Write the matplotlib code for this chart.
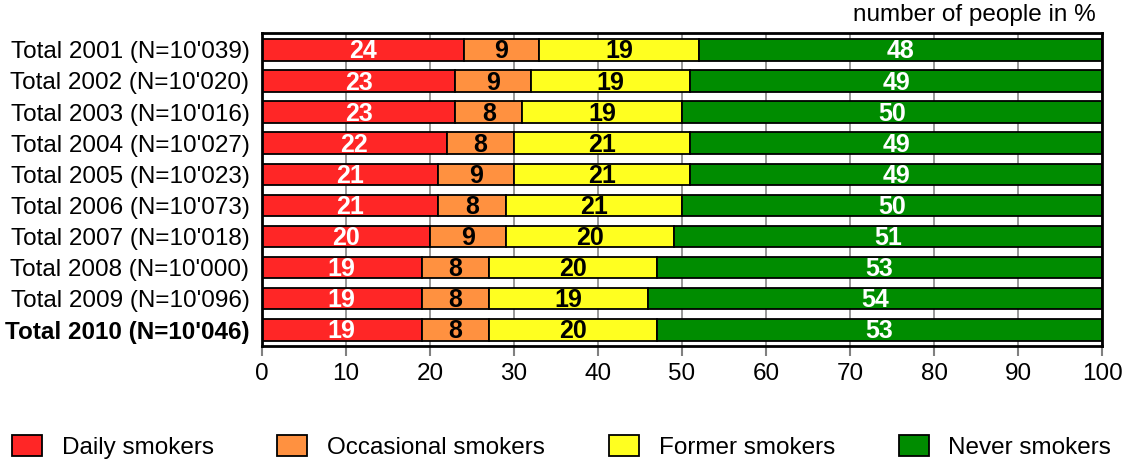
import matplotlib.pyplot as plt
import numpy as np
from matplotlib.patches import Patch

plt.rcParams['font.family'] = ['Liberation Sans', 'DejaVu Sans']

years = ["Total 2001 (N=10'039)", "Total 2002 (N=10'020)", "Total 2003 (N=10'016)",
         "Total 2004 (N=10'027)", "Total 2005 (N=10'023)", "Total 2006 (N=10'073)",
         "Total 2007 (N=10'018)", "Total 2008 (N=10'000)", "Total 2009 (N=10'096)",
         "Total 2010 (N=10'046)"]
daily = [24, 23, 23, 22, 21, 21, 20, 19, 19, 19]
occasional = [9, 9, 8, 8, 9, 8, 9, 8, 8, 8]
former = [19, 19, 19, 21, 21, 21, 20, 20, 19, 20]
never = [48, 49, 50, 49, 49, 50, 51, 53, 54, 53]

series = [
    ('Daily smokers', daily, '#ff2626', 'white'),
    ('Occasional smokers', occasional, '#ff9140', 'black'),
    ('Former smokers', former, '#ffff20', 'black'),
    ('Never smokers', never, '#008c00', 'white'),
]

fs = 17.5

fig = plt.figure(figsize=(11.22, 4.62), dpi=100)
ax = fig.add_axes([0.2335, 0.251, 0.7487, 0.6775])

y = np.arange(len(years))
left = np.zeros(len(years))
handles = []
for name, vals, col, tcol in series:
    vals = np.array(vals, dtype=float)
    ax.barh(y, vals, left=left, height=0.69, color=col, edgecolor='black',
            linewidth=1.3, zorder=3)
    for yi, l, v in zip(y, left, vals):
        ax.text(l + v / 2, yi + 0.05, '%d' % v, ha='center', va='center',
                color=tcol, fontsize=18, fontweight='bold', zorder=4)
    left += vals
    handles.append(Patch(facecolor=col, edgecolor='black', linewidth=1.3, label=name))

ax.set_xlim(0, 100)
ax.set_ylim(9.52, -0.54)
ax.set_xticks(np.arange(0, 101, 10))
ax.set_yticks(y)
ax.set_yticklabels(years)
ax.get_yticklabels()[-1].set_fontweight('bold')
ax.tick_params(axis='y', length=0, labelsize=fs, pad=9)
ax.tick_params(axis='x', length=7.5, width=1.5, color='#808080', labelsize=fs, pad=5)
ax.xaxis.grid(True, color='#909090', linewidth=1.3, zorder=0)
ax.set_axisbelow(True)
for s in ax.spines.values():
    s.set_linewidth(2)
    s.set_zorder(5)

fig.text(0.977, 0.967, 'number of people in %', ha='right', va='center', fontsize=fs)

fig.legend(handles=handles, loc='lower left', bbox_to_anchor=(-0.0045, -0.03), ncol=4,
           frameon=False, fontsize=fs, handlelength=1.23, handleheight=0.95,
           handletextpad=0.82, columnspacing=2.62, borderaxespad=0.3)

fig.savefig('out.png', dpi=100)
